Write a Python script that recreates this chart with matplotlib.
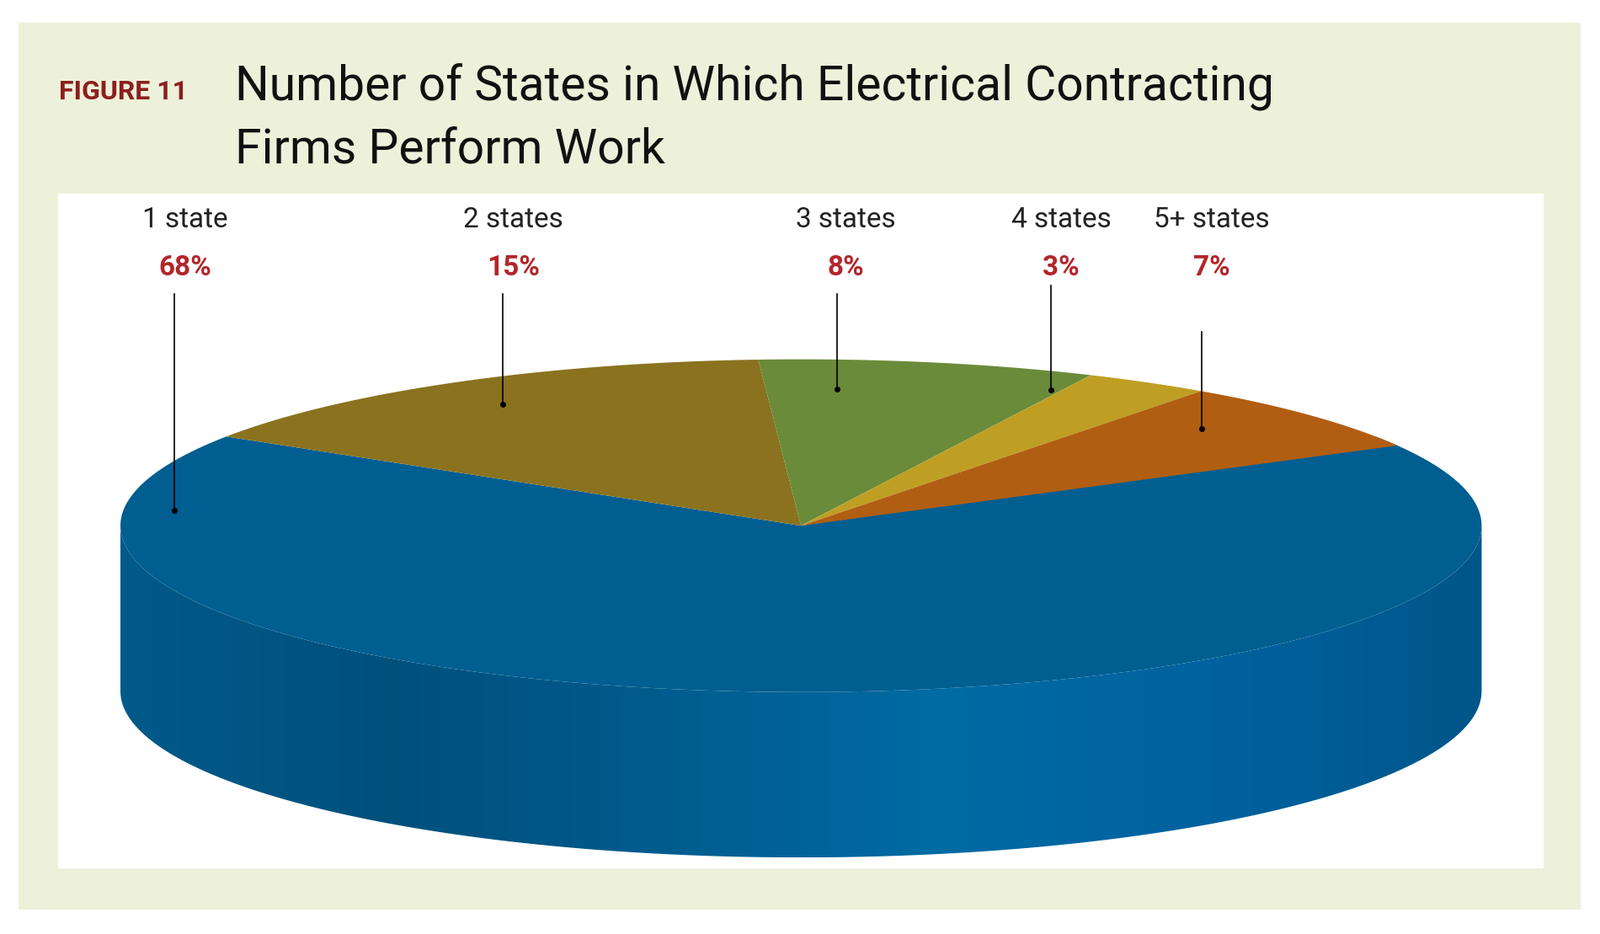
import numpy as np
import matplotlib
matplotlib.use("Agg")
import matplotlib.pyplot as plt
from matplotlib.patches import Polygon, Rectangle
from matplotlib.colors import LinearSegmentedColormap

categories = ["1 state", "2 states", "3 states", "4 states", "5+ states"]
shares = [68, 15, 8, 3, 7]
colors = ["#005E91", "#8A721F", "#6A8B3A", "#BE9F24", "#B15E12"]
label_x = [181, 503, 829, 1040, 1187]
line_top = [288, 288, 288, 280, 325]

W, H = 1568, 915
fig = plt.figure(figsize=(19, 11.09), dpi=100)
ax = fig.add_axes([0, 0, 1, 1])
ax.set_xlim(0, W); ax.set_ylim(H, 0); ax.axis("off")

ax.add_patch(Rectangle((18, 22), 1530, 868, color="#EDF1DA", zorder=0))
ax.add_patch(Rectangle((57, 190), 1455, 660, color="white", zorder=1))

fnt = ["Roboto", "DejaVu Sans"]
ax.text(58, 90, "FIGURE 11", color="#8C1F1F", fontsize=23, fontweight="bold",
        family=fnt, va="center", ha="left")
ax.text(230, 85, "Number of States in Which Electrical Contracting", fontsize=41,
        family=fnt, va="center", ha="left", color="#111")
ax.text(230, 147, "Firms Perform Work", fontsize=41, family=fnt,
        va="center", ha="left", color="#111")

cx, cy, rx, ry, depth = 785, 515, 667, 163, 162

def pt(a):
    r = np.radians(a)
    return cx + rx*np.cos(r), cy - ry*np.sin(r)

t = np.linspace(180, 360, 200)
top_front = [pt(a) for a in t]
bottom = [(x, y + depth) for x, y in top_front][::-1]
wall = top_front + bottom
grad = np.linspace(0, 1, 256)
cmap = LinearSegmentedColormap.from_list("w", ["#005A8A", "#00507C", "#005C8E", "#006BA4", "#0062A0", "#005689"])
im = ax.imshow(grad[None, :], cmap=cmap, extent=[cx-rx, cx+rx, cy+ry+depth, cy-ry], aspect="auto", zorder=2)
im.set_clip_path(Polygon(wall, closed=True, transform=ax.transData))

a0 = 270 + shares[0]*3.6/2
for s, c in zip(shares, colors):
    a1 = a0 - s*3.6
    ts = np.linspace(a0, a1, 200)
    poly = [(cx, cy)] + [pt(a) for a in ts]
    ax.add_patch(Polygon(poly, closed=True, color=c, zorder=3, lw=0))
    a0 = a1

dots = [(171, 500), (493, 396), (820, 381), (1030, 382), (1178, 420)]
for i, c in enumerate(categories):
    ax.text(label_x[i], 215, c, fontsize=24, family=fnt, ha="center", va="center", color="#222")
    ax.text(label_x[i], 262, f"{shares[i]}%", fontsize=24, family=fnt, fontweight="bold",
            ha="center", va="center", color="#B3262A")
    dx, dy = dots[i]
    ax.plot([dx, dx], [line_top[i], dy], color="black", lw=1.2, zorder=5)
    ax.plot(dx, dy, "o", color="black", ms=4, zorder=5)

fig.savefig("out.png", dpi=100)
